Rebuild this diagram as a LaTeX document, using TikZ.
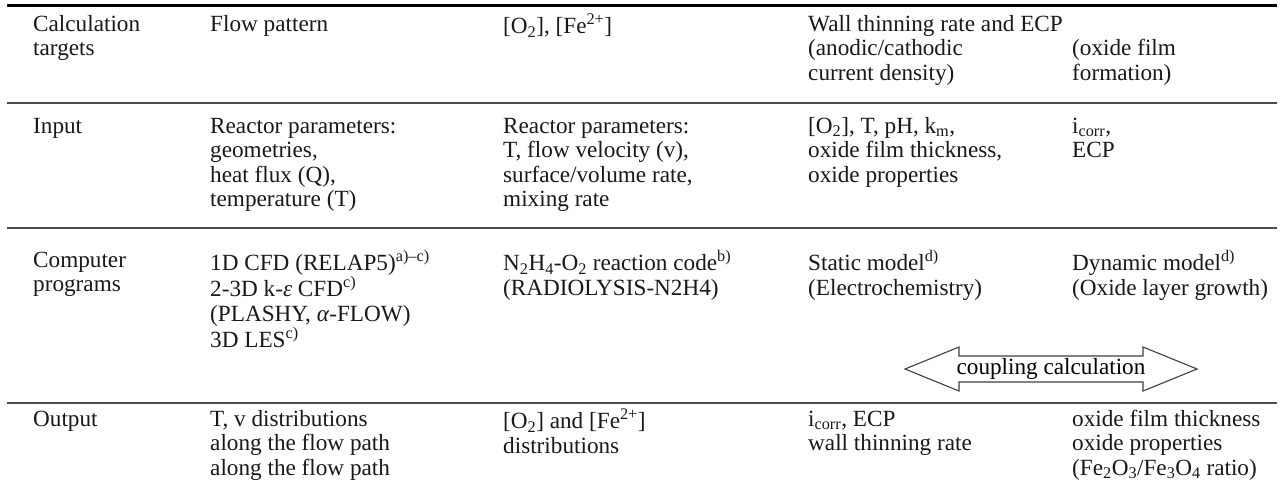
\documentclass[tikz,border=0pt]{standalone}
\usepackage{fontspec}
\setmainfont{Liberation Serif}
\newcommand{\fl}{\rule{0pt}{17pt}}
\begin{document}
\begin{tikzpicture}[x=1pt,y=-1pt,
  cell/.style={anchor=north west, align=left, inner sep=0pt, text=black!90,
    font=\fontsize{23.2}{24.5}\selectfont},
  toprule/.style={line width=3pt, black},
  midrule/.style={line width=1.8pt, black!70},
  arrowline/.style={line width=1.1pt, black!75}]
\useasboundingbox[fill=white] (0,0) rectangle (1285,480);
% rules
\coordinate (r0l) at (7,5);   \coordinate (r0r) at (1277,5);
\coordinate (r1l) at (7,103); \coordinate (r1r) at (1277,103);
\coordinate (r2l) at (7,228); \coordinate (r2r) at (1277,228);
\coordinate (r3l) at (7,403); \coordinate (r3r) at (1277,403);
\draw[toprule] (r0l) -- (r0r);
\draw[midrule] (r1l) -- (r1r);
\draw[midrule] (r2l) -- (r2r);
\draw[midrule] (r3l) -- (r3r);
% header row (baseline 31)
\node[cell] (h1) at (33,14) {\fl Calculation\\targets};
\node[cell] (h2) at (210,14) {\fl Flow pattern};
\node[cell] (h3) at (503,14) {\fl [O\textsubscript{2}], [Fe\textsuperscript{2+}]};
\node[cell] (h4) at (808,14) {\fl Wall thinning rate and ECP\\(anodic/cathodic\\current density)};
\node[cell] (h5) at (1072,38.5) {\fl (oxide film\\formation)};
% input row (baseline 133)
\node[cell] (i1) at (33,116) {\fl Input};
\node[cell] (i2) at (210,116) {\fl Reactor parameters:\\geometries,\\heat flux (Q),\\temperature (T)};
\node[cell] (i3) at (503,116) {\fl Reactor parameters:\\T, flow velocity (v),\\surface/volume rate,\\mixing rate};
\node[cell] (i4) at (808,116) {\fl [O\textsubscript{2}], T, pH, k\textsubscript{m},\\oxide film thickness,\\oxide properties};
\node[cell] (i5) at (1072,116) {\fl i\textsubscript{corr},\\ECP};
% computer programs row (baseline 267)
\node[cell] (p1) at (33,250) {\fl Computer\\programs};
\node[cell] (p2) at (210,250) {\fl 1D CFD (RELAP5)\textsuperscript{a)--c)}\\2-3D k-\textit{ε} CFD\textsuperscript{c)}\\(PLASHY, \textit{α}-FLOW)\\3D LES\textsuperscript{c)}};
\node[cell] (p3) at (503,250) {\fl N\textsubscript{2}H\textsubscript{4}-O\textsubscript{2} reaction code\textsuperscript{b)}\\(RADIOLYSIS-N2H4)};
\node[cell] (p4) at (808,250) {\fl Static model\textsuperscript{d)}\\(Electrochemistry)};
\node[cell] (p5) at (1072,250) {\fl Dynamic model\textsuperscript{d)}\\(Oxide layer growth)};
% coupling arrow
\node[inner sep=0pt, font=\fontsize{23.2}{24.5}\selectfont] (cc) at (1051,369) {coupling calculation};
\begin{scope}[shift={(cc.center)}]
\draw[arrowline, line join=miter]
  (-146,0) -- (-92,-22) -- (-92,-13) -- (92,-13) -- (92,-22) -- (146,0)
  -- (92,22) -- (92,13) -- (-92,13) -- (-92,22) -- cycle;
\end{scope}
% output row (baseline 426)
\node[cell] (o1) at (33,409) {\fl Output};
\node[cell] (o2) at (210,409) {\fl T, v distributions\\along the flow path\\along the flow path};
\node[cell] (o3) at (503,409) {\fl [O\textsubscript{2}] and [Fe\textsuperscript{2+}]\\distributions};
\node[cell] (o4) at (808,409) {\fl i\textsubscript{corr}, ECP\\wall thinning rate};
\node[cell] (o5) at (1072,409) {\fl oxide film thickness\\oxide properties\\(Fe\textsubscript{2}O\textsubscript{3}/Fe\textsubscript{3}O\textsubscript{4} ratio)};
\end{tikzpicture}
\end{document}
